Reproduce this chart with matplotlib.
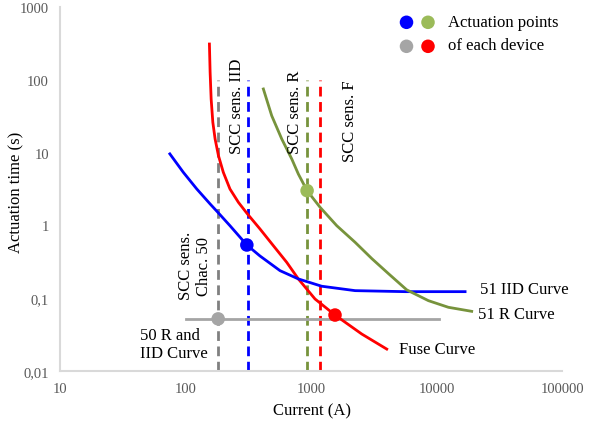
import matplotlib.pyplot as plt

plt.rcParams['font.family'] = ['Liberation Serif', 'DejaVu Serif']

# Fuse curve
fuse_x = [155, 157, 160, 165, 172, 183, 200, 226, 264, 311, 392, 501, 640, 792,
          1076, 1552, 2535, 4010]
fuse_y = [310, 127, 54.4, 26.1, 15.4, 9.06, 5.36, 3.16, 2.07, 1.44, 0.893, 0.526,
          0.311, 0.184, 0.0975, 0.0587, 0.0322, 0.020]

# 51 IID curve
iid_x = [75, 96, 123, 157, 183, 226, 308, 392, 566, 792, 1216, 2244, 5610, 16870]
iid_y = [9.6, 5.36, 3.16, 1.97, 1.48, 0.99, 0.538, 0.38, 0.239, 0.184, 0.146,
         0.127, 0.123, 0.123]

# 51 R curve
r_x = [417, 486, 584, 702, 792, 930, 1181, 1603, 2244, 3048, 4130, 5790, 8610,
       12420, 19050]
r_y = [74.8, 32.1, 15.4, 8.17, 5.08, 3.0, 1.77, 0.99, 0.586, 0.35, 0.218, 0.13,
       0.0925, 0.075, 0.066]

# 50 R and IID curve
inst_x = [100, 10500]
inst_y = [0.052, 0.052]

# sensitivity lines (current, colour)
sens_x = [182, 315, 930, 1185]
sens_colors = ['#808080', '#0000FF', '#77933C', '#FF0000']

# actuation points
pts_x = [308, 930, 182, 1552]
pts_y = [0.538, 3.0, 0.052, 0.0587]
pts_colors = ['#0000FF', '#9BBB59', '#A5A5A5', '#FF0000']

fig = plt.figure(figsize=(5.9, 4.27), dpi=100)
ax = fig.add_axes([0.1017, 0.1288, 0.851, 0.8525])
ax.set_xscale('log')
ax.set_yscale('log')
ax.set_xlim(10, 100000)
ax.set_ylim(0.01, 1000)

for x, c in zip(sens_x, sens_colors):
    ax.plot([x, x], [0.01, 100], color=c, lw=2, dashes=(3.5, 2), zorder=2)

ax.plot(inst_x, inst_y, color='#A5A5A5', lw=2, zorder=3)
ax.plot(fuse_x, fuse_y, color='#FF0000', lw=2, zorder=3, solid_joinstyle='round')
ax.plot(iid_x, iid_y, color='#0000FF', lw=2, zorder=3, solid_joinstyle='round')
ax.plot(r_x, r_y, color='#77933C', lw=2, zorder=3, solid_joinstyle='round')

ax.scatter(pts_x, pts_y, s=95, c=pts_colors, zorder=5, linewidths=0)

# legend-like markers
leg_x = [406.5 / 590, 428 / 590, 406.5 / 590, 428 / 590]
leg_y = [1 - 23.3 / 427, 1 - 23.3 / 427, 1 - 47.3 / 427, 1 - 47.3 / 427]
ax.scatter(leg_x, leg_y, s=95, c=['#0000FF', '#9BBB59', '#A5A5A5', '#FF0000'],
           transform=fig.transFigure, clip_on=False, linewidths=0)
fig.text(448 / 590, 1 - 23 / 427, 'Actuation points', fontsize=12, va='center')
fig.text(448 / 590, 1 - 46 / 427, 'of each device', fontsize=12, va='center')

tk = dict(fontsize=12, rotation=90, ha='center', va='center')
fig.text(237 / 590, 1 - 106 / 427, 'SCC sens. IID', **tk)
fig.text(295 / 590, 1 - 112 / 427, 'SCC sens. R', **tk)
fig.text(350 / 590, 1 - 121 / 427, 'SCC sens. F', **tk)
fig.text(195 / 590, 1 - 266 / 427, 'SCC sens.\nChac. 50', multialignment='center', **tk)

fig.text(140 / 590, 1 - 345 / 427, '50 R and\nIID Curve', fontsize=12,
         va='center', ha='left', linespacing=1.2)
fig.text(480 / 590, 1 - 290 / 427, '51 IID Curve', fontsize=12, va='center')
fig.text(478 / 590, 1 - 315 / 427, '51 R Curve', fontsize=12, va='center')
fig.text(399 / 590, 1 - 350 / 427, 'Fuse Curve', fontsize=12, va='center')

ax.set_xticks([10, 100, 1000, 10000, 100000])
ax.set_xticklabels(['10', '100', '1000', '10000', '100000'])
ax.set_yticks([0.01, 0.1, 1, 10, 100, 1000])
ax.set_yticklabels(['0,01', '0,1', '1', '10', '100', '1000'])
ax.minorticks_off()
ax.tick_params(length=0, labelsize=10.5, labelcolor='#595959', pad=8)

fig.text(312 / 590, 1 - 411 / 427, 'Current (A)', fontsize=12, ha='center', va='center')
fig.text(16 / 590, 1 - 192 / 427, 'Actuation time (s)', fontsize=12,
         rotation=90, ha='center', va='center')

for s in ['top', 'right']:
    ax.spines[s].set_visible(False)
for s in ['left', 'bottom']:
    ax.spines[s].set_color('#D9D9D9')
    ax.spines[s].set_linewidth(1.5)

fig.savefig('out.png', dpi=100)
